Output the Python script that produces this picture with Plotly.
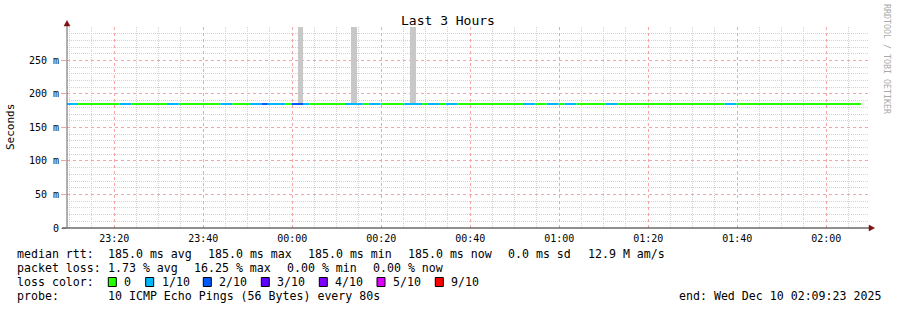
import plotly.graph_objects as go
import pandas as pd

# ---------------- data ----------------
start_time = "2025-12-09 23:09:23"
end_time = "2025-12-10 02:09:23"
first_sample_start = "2025-12-09 23:09:11"
step_s = 80
# (loss in tenths, number of consecutive samples)
loss_runs = [(1, 2), (0, 7), (1, 2), (0, 6), (1, 2), (0, 7), (1, 2), (0, 3), (1, 2), (2, 1),
             (1, 3), (0, 1), (2, 2), (1, 1), (0, 6), (1, 3), (0, 1), (1, 2), (0, 4), (1, 3),
             (0, 1), (1, 2), (0, 1), (1, 2), (0, 11), (1, 2), (0, 2), (1, 2), (0, 1), (1, 2),
             (0, 5), (1, 2), (0, 18), (1, 2), (0, 21)]
median_s = 0.185
smoke_sample_idx = [39, 48, 58]
smoke_lo_s = [0.184, 0.184, 0.184]
smoke_hi_s = [0.330, 0.330, 0.330]

loss_values = [0, 1, 2, 3, 4, 5, 9]
loss_labels = ["0", "1/10", "2/10", "3/10", "4/10", "5/10", "9/10"]
loss_colors = ["#26ff00", "#00b8ff", "#0059ff", "#5e00ff", "#7e00ff", "#dd00ff", "#ff0000"]

ytick_vals = [0, 0.05, 0.10, 0.15, 0.20, 0.25]
ytick_text = ["0", "50 m", "100 m", "150 m", "200 m", "250 m"]

title_text = "Last 3 Hours"
ytitle_text = "Seconds"
watermark_text = "RRDTOOL / TOBI OETIKER"
row1_text = ["median rtt:", "185.0 ms avg", "185.0 ms max", "185.0 ms min", "185.0 ms now",
             "0.0 ms sd", "12.9 M am/s"]
row2_text = ["packet loss:", "1.73 % avg", "16.25 % max", "0.00 % min", "0.00 % now"]
row3_head = "loss color:"
row4_text = ["probe:", "10 ICMP Echo Pings (56 Bytes) every 80s",
             "end: Wed Dec 10 02:09:23 2025"]

# ---------------- layout geometry (pixels) ----------------
W, H = 897, 310
L, R, T, B = 67, 29, 27, 82
PW, PH = W - L - R, H - T - B
row1_x = [16, 107.3, 207.3, 306.7, 407.3, 506.7, 586.7]
row2_x = [16, 107.3, 192.7, 286, 372.3]
row3_box_x = [108.3, 145.7, 203.3, 261.3, 319.3, 377, 435.3]
row3_lab_x = [123.3, 160.7, 218.3, 276, 334, 391.7, 450]
row4_x = [16, 107.3, 678.3]
row_y = [254.3, 268.3, 282, 296.3]


def px(xp):
    return (xp - L) / PW


def py(yp):
    return (T + PH - yp) / PH


MONO = "DejaVu Sans Mono"

fig = go.Figure()

# smoke bars
t_first = pd.Timestamp(first_sample_start)
step = pd.Timedelta(seconds=step_s)
smoke_x = [t_first + step * (i + 0.5) for i in smoke_sample_idx]
fig.add_trace(go.Bar(
    x=smoke_x, base=smoke_lo_s,
    y=[h - l for h, l in zip(smoke_hi_s, smoke_lo_s)],
    width=step_s * 1000, marker=dict(color="#c8c8c8", line=dict(width=0)),
    showlegend=False, hoverinfo="skip"))

# median line coloured by loss
seg = {v: ([], []) for v in loss_values}
k = 0
for val, n in loss_runs:
    xs, ys = seg[val]
    xs += [t_first + step * k, t_first + step * (k + n), None]
    ys += [median_s, median_s, None]
    k += n
for v, c in zip(loss_values, loss_colors):
    xs, ys = seg[v]
    if xs:
        fig.add_trace(go.Scatter(x=xs, y=ys, mode="lines",
                                 line=dict(color=c, width=2),
                                 showlegend=False, hoverinfo="skip"))

# minor grid positions (excluding major positions)
x_minor = [t for t in pd.date_range("2025-12-09 23:10:00", "2025-12-10 02:05:00", freq="5min")
           if t.minute % 20 != 0]
y_minor = [i / 100 for i in range(1, 30) if i % 5 != 0]

red_grid = "rgb(243,165,165)"
gray_grid = "rgb(210,210,210)"
fig.update_xaxes(
    type="date", range=[start_time, end_time],
    tickmode="linear", tick0="2025-12-09 23:20:00", dtick=20 * 60 * 1000,
    tickformat="%H:%M", showgrid=True, gridcolor=red_grid, griddash="dot", gridwidth=1,
    minor=dict(tickmode="array", tickvals=x_minor,
               showgrid=True, gridcolor=gray_grid, griddash="1px,1px", gridwidth=1),
    showline=False, zeroline=False, ticks="", ticklen=0, ticklabelstandoff=3,
    tickfont=dict(family=MONO, size=10, color="#000"),
)
fig.update_yaxes(
    range=[0, 0.2999], tickmode="array", tickvals=ytick_vals, ticktext=ytick_text,
    showgrid=True, gridcolor=red_grid, griddash="dot", gridwidth=1,
    minor=dict(tickmode="array", tickvals=y_minor, showgrid=True,
               gridcolor=gray_grid, griddash="1px,1px", gridwidth=1),
    showline=False, zeroline=False, ticks="outside", ticklen=5, tickcolor=red_grid,
    tickfont=dict(family=MONO, size=10, color="#000"),
)

shapes = []
# axes lines
shapes.append(dict(type="line", xref="paper", yref="paper", x0=px(62), x1=px(870),
                   y0=0, y1=0, line=dict(color="#202020", width=1)))
shapes.append(dict(type="line", xref="paper", yref="paper", x0=0, x1=0,
                   y0=0, y1=py(24), line=dict(color="#606060", width=1)))
# arrows
shapes.append(dict(type="path", xref="paper", yref="paper",
                   path=f"M {px(64)} {py(26)} L {px(67)} {py(20.5)} L {px(70)} {py(26)} Z",
                   fillcolor="#7f1010", line=dict(color="#7f1010", width=0.5)))
shapes.append(dict(type="path", xref="paper", yref="paper",
                   path=f"M {px(869)} {py(225)} L {px(874.5)} {py(228)} L {px(869)} {py(231)} Z",
                   fillcolor="#7f1010", line=dict(color="#7f1010", width=0.5)))
# loss colour boxes
for bx, c in zip(row3_box_x, loss_colors):
    shapes.append(dict(type="rect", xref="paper", yref="paper",
                       x0=px(bx), x1=px(bx + 8), y0=py(row_y[2] + 4.5), y1=py(row_y[2] - 4.5),
                       fillcolor=c, line=dict(color="#000", width=1)))

ann = []
LEG = 11.6


def text(t, xp, yp, size=LEG, color="#000", anchor="left", angle=0):
    ann.append(dict(text=t, xref="paper", yref="paper", x=px(xp), y=py(yp),
                    xanchor=anchor, yanchor="middle", showarrow=False, textangle=angle,
                    font=dict(family=MONO, size=size, color=color), borderpad=0))


for t, xp in zip(row1_text, row1_x):
    text(t, xp, row_y[0])
for t, xp in zip(row2_text, row2_x):
    text(t, xp, row_y[1])
text(row3_head, 16, row_y[2])
for t, xp in zip(loss_labels, row3_lab_x):
    text(t, xp, row_y[2])
for t, xp in zip(row4_text, row4_x):
    text(t, xp, row_y[3])

text(title_text, 448, 20, size=13, anchor="center")
text(ytitle_text, 11, 127, size=11, anchor="center", angle=-90)
text(watermark_text, 887, 59, size=8.3, color="#aaaaaa", anchor="center", angle=90)

fig.update_layout(
    width=W, height=H, margin=dict(l=L, r=R, t=T, b=B, pad=0),
    paper_bgcolor="white", plot_bgcolor="white",
    barmode="overlay", bargap=0, showlegend=False,
    shapes=shapes, annotations=ann,
)

fig.write_html("out.html")
